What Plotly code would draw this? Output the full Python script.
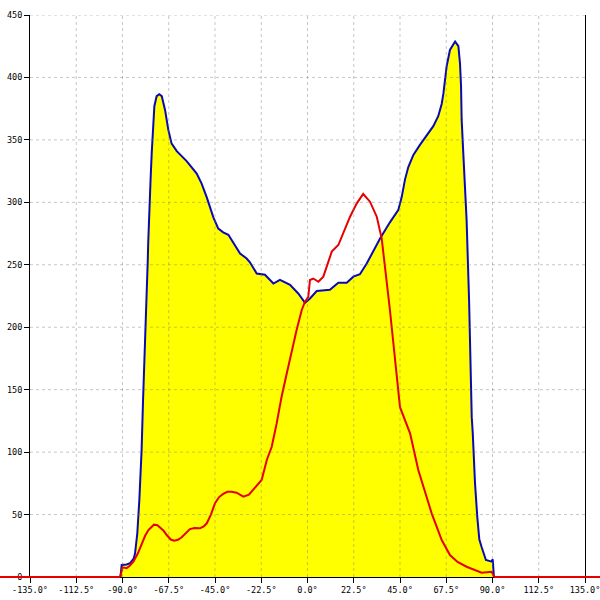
import plotly.graph_objects as go

# ---- data ----
x_tick_vals = [-135, -112.5, -90, -67.5, -45, -22.5, 0, 22.5, 45, 67.5, 90, 112.5, 135]
x_tick_text = ["-135.0°", "-112.5°", "-90.0°", "-67.5°", "-45.0°", "-22.5°", "0.0°",
               "22.5°", "45.0°", "67.5°", "90.0°", "112.5°", "135.0°"]
y_tick_vals = [0, 50, 100, 150, 200, 250, 300, 350, 400, 450]

blue_x = [-135, -91.0, -90.4, -88.0, -86.4, -84.5, -83.9, -82.8, -81.8, -80.7, -80.0,
          -78.1, -77.7, -77.5, -77.0, -76.3, -75.8, -75.0, -74.5, -73.4, -72.1, -70.9,
          -69.3, -67.7, -66.1, -63.6, -58.8, -53.9, -51.5, -49.0, -45.8, -43.4, -41.0,
          -38.5, -36.1, -32.8, -29.6, -28.0, -24.7, -20.7, -16.6, -13.4, -8.5, -4.5,
          -1.2, 1.2, 4.5, 10.9, 15.0, 19.1, 22.3, 25.5, 28.8, 35.3, 40.1, 41.0, 44.2,
          45.8, 47.4, 49.0, 51.5, 54.7, 58.0, 61.2, 63.6, 65.3, 66.1, 66.9, 67.7, 69.3,
          71.8, 73.4, 74.2, 74.7, 75.0, 75.8, 76.6, 77.4, 78.6, 79.5, 79.9, 80.4, 80.7,
          81.5, 82.6, 83.6, 84.7, 86.8, 89.6, 90.1, 90.7, 135]
blue_y = [0, 0, 9.6, 10, 11, 15, 19, 35, 62, 102, 142,
          222, 254, 267, 294, 320, 339, 361, 377, 385, 386.5, 385,
          374, 358, 347, 341, 333, 323, 315, 304, 288, 279, 276,
          274, 268, 259, 255, 252, 243, 242, 235, 238, 234, 227,
          219.6, 223, 229, 230, 235.7, 235.7, 240.5, 242.4, 251, 271, 284, 286, 294,
          304, 318, 328, 338, 346, 354, 361, 369, 379, 387, 400, 409, 422,
          428.7, 425, 411, 393, 366, 339, 312, 286, 222, 142, 128, 115, 102,
          75, 48, 30, 24, 13.6, 12.3, 14.2, 0, 0]

red_x = [-135, -91.2, -89.9, -88.0, -86.5, -84.7, -82.5, -80.7, -79.0, -77.4, -74.7,
         -73.0, -71.8, -70.0, -68.5, -66.5, -64.9, -63.0, -61.2, -59.0, -57.2, -55.0,
         -52.3, -50.5, -49.0, -47.0, -45.0, -43.0, -41.0, -39.0, -36.9, -34.5, -32.8,
         -31.2, -28.5, -26.4, -22.3, -19.8, -17.4, -15.0, -12.6, -10.1, -7.7, -5.3,
         -2.8, -1.2, 0.4, 1.2, 2.8, 5.3, 7.7, 11.8, 15.0, 20.7, 23.9, 27.1, 30.4,
         33.7, 36.1, 38.5, 40.1, 45.0, 49.9, 53.9, 56.3, 60.4, 65.3, 69.3, 73.0,
         77.4, 84.7, 89.6, 90.9, 135]
red_y = [0, 0, 7.7, 7, 9, 12.3, 19, 27, 33, 37.6, 41.9,
         41.5, 39.8, 37, 33.6, 30, 29, 29.8, 31.8, 35.5, 38.4, 39.2,
         39, 40.5, 43, 50, 59, 64, 66.5, 68.2, 68.3, 67.5, 65.7,
         64.3, 66, 69.7, 77.7, 93.7, 104.3, 123, 144.4, 163, 181.8, 197.8,
         213.8, 220.4, 224.4, 237.8, 239, 236.4, 240.5, 260.5, 265.8, 288.5, 299, 306.7, 300.5,
         288.5, 271, 237.8, 213.8, 136, 115, 85.7, 72.3, 51, 29.6, 17.6, 12,
         8.2, 3.4, 4.2, 0, 0]

# ---- styling ----
XMIN, XMAX = -135, 135
YMIN, YMAX = 0, 450
FONT = dict(family="DejaVu Sans Mono", size=8.5, color="black")
GRID = dict(color="rgba(120,120,120,0.42)", width=1, dash="3px,3px")

fig = go.Figure()
fig.add_trace(go.Scatter(x=blue_x, y=blue_y, mode="lines", fill="tozeroy",
                         fillcolor="#FFFF00", line=dict(color="#0A0AB4", width=2),
                         showlegend=False, hoverinfo="skip"))
fig.add_trace(go.Scatter(x=red_x, y=red_y, mode="lines",
                         line=dict(color="#E60000", width=2),
                         showlegend=False, hoverinfo="skip"))

shapes = []
# dashed grid drawn above the fill
for v in x_tick_vals[1:-1]:
    shapes.append(dict(type="line", xref="x", yref="paper", x0=v, x1=v, y0=0, y1=1,
                       line=GRID, layer="above"))
for v in y_tick_vals[1:]:
    shapes.append(dict(type="line", xref="paper", yref="y", x0=0, x1=1, y0=v, y1=v,
                       line=GRID, layer="above"))

# red zero-line continues past the axes
def frac(v):
    return (v - XMIN) / (XMAX - XMIN)

shapes.append(dict(type="line", xref="paper", yref="paper", x0=-30 / 555, x1=frac(red_x[1]),
                   y0=0, y1=0, line=dict(color="#E60000", width=2), layer="above"))
shapes.append(dict(type="line", xref="paper", yref="paper", x0=frac(red_x[-2]), x1=1 + 15 / 555,
                   y0=0, y1=0, line=dict(color="#E60000", width=2), layer="above"))

fig.update_layout(
    width=600, height=600,
    margin=dict(l=30, r=15, t=15, b=23, autoexpand=False),
    paper_bgcolor="white", plot_bgcolor="white",
    font=FONT,
    shapes=shapes,
    xaxis=dict(range=[XMIN, XMAX], tickvals=x_tick_vals, ticktext=x_tick_text,
               showgrid=False, zeroline=False, showline=True, linecolor="black", linewidth=1,
               ticks="outside", ticklen=5, tickcolor="black", tickfont=FONT,
               automargin=False, ticklabeloverflow="allow"),
    yaxis=dict(range=[YMIN, YMAX], tickvals=y_tick_vals,
               showgrid=False, zeroline=False, showline=True, mirror=True,
               linecolor="black", linewidth=1,
               ticks="outside", ticklen=5, tickcolor="black", tickfont=FONT,
               automargin=False, ticklabeloverflow="allow"),
)

fig.write_html("out.html", config={"displayModeBar": False},
               post_script="document.body.style.margin='0';document.body.style.overflow='hidden';")
